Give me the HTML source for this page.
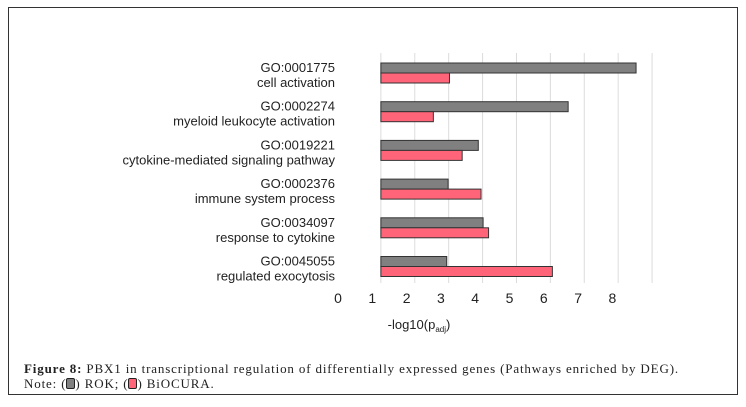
<!DOCTYPE html>
<html><head><meta charset="utf-8"><style>
body{margin:0;background:#fff;width:746px;height:407px;overflow:hidden;position:relative;font-family:"Liberation Sans",sans-serif}
#frame{position:absolute;left:8px;top:7px;width:730px;height:388px;border:1px solid #333;box-sizing:border-box}
.cap{position:absolute;left:24px;font-family:"Liberation Serif",serif;font-size:13px;letter-spacing:0.85px;color:#222;white-space:nowrap}
.sw{display:inline-block;width:7px;height:9px;border:1.5px solid #222;border-radius:2px;vertical-align:-1px}
</style></head><body>
<div id="frame"></div>
<svg id="chart" width="746" height="407" style="position:absolute;left:0;top:0"></svg>
<div class="cap" style="top:361px"><b>Figure 8:</b> PBX1 in transcriptional regulation of differentially expressed genes (Pathways enriched by DEG).</div>
<div class="cap" style="top:376px">Note: (<span class="sw" style="background:#808080"></span>) ROK; (<span class="sw" style="background:#ff6479"></span>) BiOCURA.</div>
<script>
const goIds=["GO:0001775","GO:0002274","GO:0019221","GO:0002376","GO:0034097","GO:0045055"];
const terms=["cell activation","myeloid leukocyte activation","cytokine-mediated signaling pathway","immune system process","response to cytokine","regulated exocytosis"];
const rok=[8.69,6.71,4.09,3.21,4.23,3.17];
const biocura=[3.25,2.78,3.62,4.17,4.39,6.25];
const ticks=[0,1,2,3,4,5,6,7,8];
const baseVal=1.25;
const svg=document.getElementById('chart');
const NS='http://www.w3.org/2000/svg';
const x=v=>338+34.3*v;
function mk(t,a){const e=document.createElementNS(NS,t);for(const k in a)e.setAttribute(k,a[k]);svg.appendChild(e);return e;}
for(let k=0;k<9;k++){
  const g=mk('line',{x1:x(baseVal)+k*33.9,x2:x(baseVal)+k*33.9,y1:53,y2:283,stroke:'#dcdcdc','stroke-width':1});
  
  
}
ticks.forEach(t=>{
  const e=mk('text',{x:x(t),y:303,'text-anchor':'middle','font-size':14,fill:'#222'});
  e.textContent=t;
  
  
});
const xt=mk('text',{x:419,y:329,'text-anchor':'middle','font-size':13,fill:'#222'});
xt.innerHTML='-log10(p<tspan font-size="8" dy="3">adj</tspan><tspan dy="-3">)</tspan>';


goIds.forEach((id,i)=>{
  const y0=63+38.7*i;
  const a=mk('text',{x:335,y:y0+9,'text-anchor':'end','font-size':13,fill:'#222'});a.textContent=id;
  
  
  const b=mk('text',{x:335,y:y0+24,'text-anchor':'end','font-size':13,fill:'#222'});b.textContent=terms[i];
  
  
  const r1=mk('rect',{x:x(baseVal),y:y0,width:x(rok[i])-x(baseVal),height:10,fill:'#808080',stroke:'#333','stroke-width':1});
  
  
  const r2=mk('rect',{x:x(baseVal),y:y0+10,width:x(biocura[i])-x(baseVal),height:10,fill:'#ff6479',stroke:'#333','stroke-width':1});
  
  
});
</script>
</body></html>
